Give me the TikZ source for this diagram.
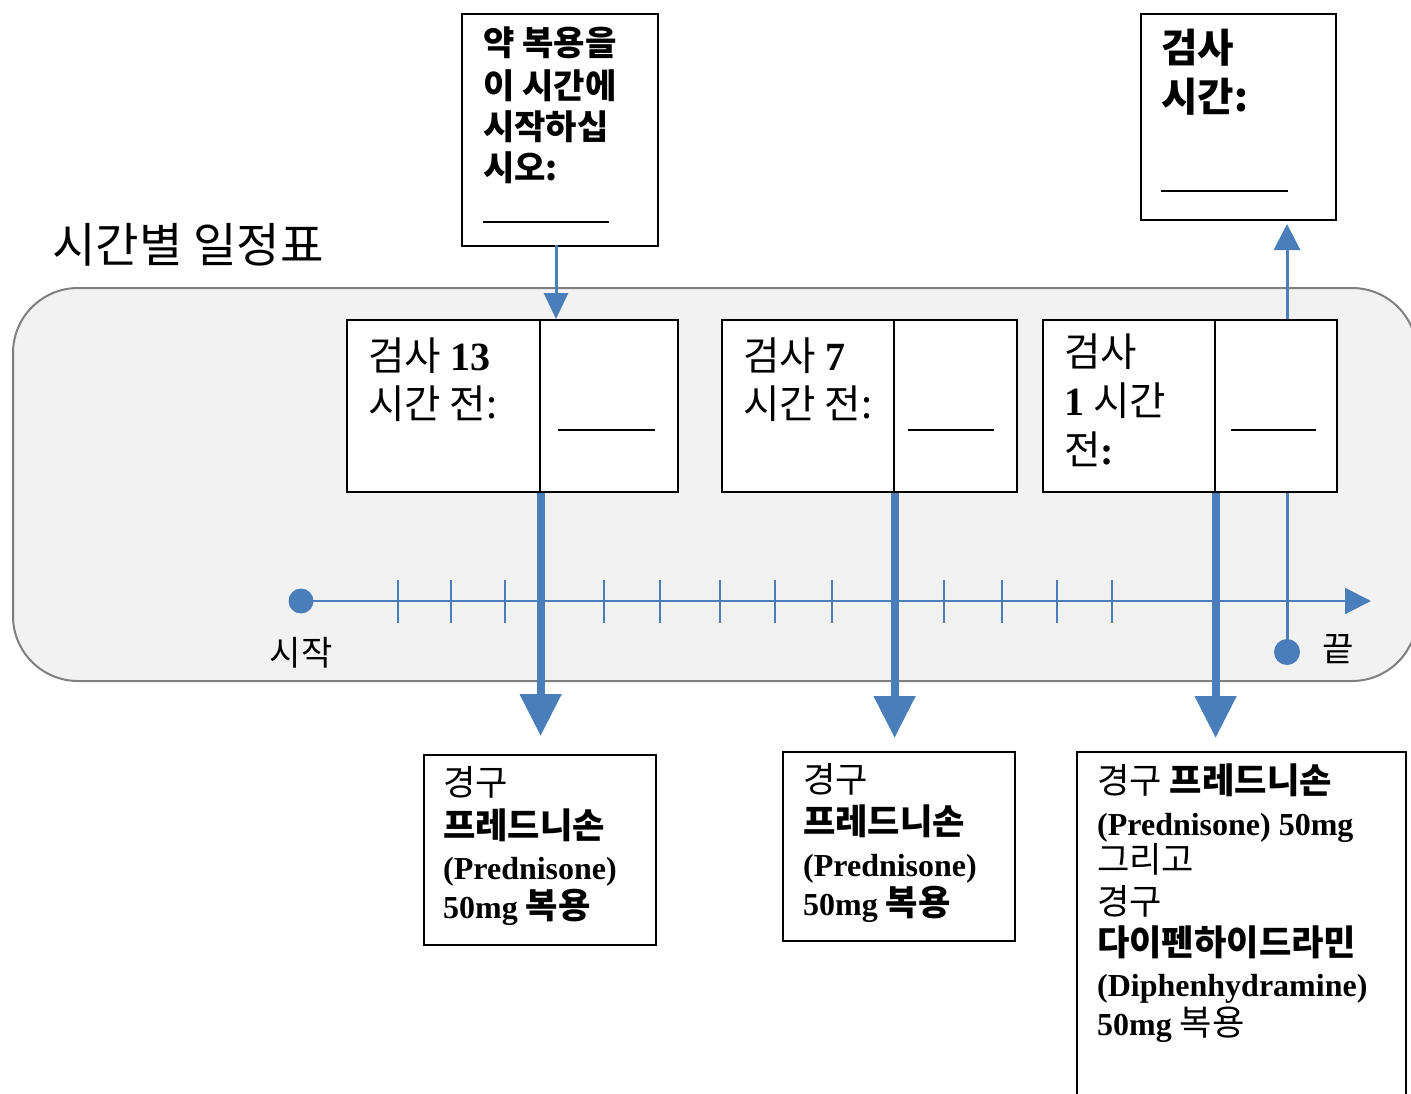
\documentclass[tikz,border=0pt]{standalone}
\usepackage{fontspec}
\setmainfont{Liberation Serif}[BoldFont={Liberation Serif Bold}]
\newfontfamily\kr{Noto Sans CJK KR}[Scale=1.1]
\usetikzlibrary{arrows.meta}
\definecolor{tlblue}{HTML}{4A7EBB}
\definecolor{bggray}{HTML}{F2F2F2}
\definecolor{bgline}{HTML}{7F7F7F}
\newcommand{\K}[1]{{\kr #1}}
\newcommand{\KB}[1]{{\kr\bfseries #1}}
\newcommand{\LB}[1]{{\fontsize{40}{44}\selectfont\bfseries #1}}
\tikzset{
  box/.style={draw=black, line width=1.6pt, fill=white, inner sep=0pt, anchor=north west},
  txt/.style={anchor=base west, inner sep=0pt},
  midtxt/.style={txt, font=\fontsize{36}{44}\selectfont},
  bottxt/.style={txt, font=\fontsize{32}{38}\selectfont},
  blank/.style={draw=black, line width=1.4pt},
  axisline/.style={draw=tlblue, line width=2pt},
  tick/.style={draw=tlblue, line width=2pt},
  thinarrow/.style={draw=tlblue, line width=3pt, -{Triangle[width=26pt,length=26pt]}},
  thickarrow/.style={draw=tlblue, line width=8pt, -{Triangle[width=40pt,length=42pt]}},
}
\begin{document}
\begin{tikzpicture}[x=1pt,y=-1pt]
\useasboundingbox (0,0) rectangle (1411,1093);
% background panel
\node[draw=bgline, fill=bggray, line width=2pt, rounded corners=65pt, inner sep=0pt, anchor=north west,
      minimum width=1404pt, minimum height=393pt] (bg) at (12,287) {};
% title
\node[txt, font=\fontsize{43}{48}\selectfont] (title) at (52,262) {\K{시간별 일정표}};
% axis
\coordinate (axisEnd) at (1371,601);
\node[circle, fill=tlblue, inner sep=0pt, minimum size=25pt] (startDot) at (301,601) {};
\node[circle, fill=tlblue, inner sep=0pt, minimum size=26pt] (endDot) at (1287,652) {};
\draw[axisline, -{Triangle[width=26pt,length=26pt]}] (startDot.center) -- (axisEnd);
\foreach \tx in {398,451,505,604,660,720,775,832,944,1002,1057,1112}{
  \draw[tick] (\tx,580) -- (\tx,623);
}
\node[txt, font=\fontsize{31}{34}\selectfont, anchor=center] (startLbl) at (301,653) {\K{시작}};
\node[txt, font=\fontsize{31}{34}\selectfont, anchor=center] (endLbl) at (1338,649) {\K{끝}};
% end vertical arrow up
\coordinate (upTip) at (1287,224);
\draw[thinarrow] (endDot.center) -- (upTip);
% top boxes
\node[box, minimum width=196pt, minimum height=232pt] (top1) at (461,13) {};
\node[box, minimum width=195pt, minimum height=206pt] (top2) at (1140,13) {};
\begin{scope}[every node/.style={txt, font=\fontsize{31}{36}\selectfont}]
\node (t1a) at (483,55) {\KB{약 복용을}};
\node (t1b) at (483,98) {\KB{이 시간에}};
\node (t1c) at (483,139) {\KB{시작하십}};
\node (t1d) at (483,180) {\KB{시오:}};
\end{scope}
\coordinate (t1l) at (483,222); \coordinate (t1r) at (609,222);
\draw[blank] (t1l) -- (t1r);
\node[txt, font=\fontsize{36}{42}\selectfont] (t2a) at (1161,62) {\KB{검사}};
\node[txt, font=\fontsize{36}{42}\selectfont] (t2b) at (1161,111) {\KB{시간:}};
\coordinate (t2l) at (1161,191); \coordinate (t2r) at (1288,191);
\draw[blank] (t2l) -- (t2r);
% middle boxes
\node[box, minimum width=193pt, minimum height=172pt] (aL) at (346,319) {};
\node[box, minimum width=138pt, minimum height=172pt] (aR) at (539,319) {};
\node[box, minimum width=172pt, minimum height=172pt] (bL) at (721,319) {};
\node[box, minimum width=123pt, minimum height=172pt] (bR) at (893,319) {};
\node[box, minimum width=172pt, minimum height=172pt] (cL) at (1042,319) {};
\node[box, minimum width=122pt, minimum height=172pt] (cR) at (1214,319) {};
\node[midtxt] (a1) at (368,370) {\K{검사} \LB{13}};
\node[midtxt] (a2) at (368,418) {\K{시간 전:}};
\node[midtxt] (b1) at (743,370) {\K{검사} \LB{7}};
\node[midtxt] (b2) at (743,418) {\K{시간 전:}};
\node[midtxt] (c1) at (1064,366) {\K{검사}};
\node[midtxt] (c2) at (1064,415) {\LB{1} \K{시간}};
\node[midtxt] (c3) at (1064,464) {\K{전}\LB{:}};
\coordinate (aBl) at (558,430); \coordinate (aBr) at (655,430);
\coordinate (bBl) at (908,430); \coordinate (bBr) at (994,430);
\coordinate (cBl) at (1231,430); \coordinate (cBr) at (1316,430);
\draw[blank] (aBl) -- (aBr);
\draw[blank] (bBl) -- (bBr);
\draw[blank] (cBl) -- (cBr);
% arrow from top1 to box A
\coordinate (t1out) at (556,245);
\draw[thinarrow, -{Triangle[width=24pt,length=26pt]}] (t1out) -- (t1out |- aR.north);
% thick arrows
\coordinate (tipA) at (539,736);
\coordinate (tipB) at (893,738);
\coordinate (tipC) at (1214,738);
\draw[thickarrow] (aL.south east) -- (aL.south east |- tipA);
\draw[thickarrow] (bL.south east) -- (bL.south east |- tipB);
\draw[thickarrow] (cL.south east) -- (cL.south east |- tipC);
% bottom boxes
\node[box, minimum width=232pt, minimum height=190pt] (dBox) at (423,754) {};
\node[box, minimum width=232pt, minimum height=189pt] (eBox) at (782,751) {};
\node[box, minimum width=329pt, minimum height=360pt] (fBox) at (1076,751) {};
\node[bottxt] (d1) at (443,795) {\K{경구}};
\node[bottxt] (d2) at (443,838) {\KB{프레드니손}};
\node[bottxt] (d3) at (443,879) {\textbf{(Prednisone)}};
\node[bottxt] (d4) at (443,918) {\textbf{50mg} \KB{복용}};
\node[bottxt] (e1) at (803,792) {\K{경구}};
\node[bottxt] (e2) at (803,834) {\KB{프레드니손}};
\node[bottxt] (e3) at (803,876) {\textbf{(Prednisone)}};
\node[bottxt] (e4) at (803,915) {\textbf{50mg} \KB{복용}};
\node[bottxt] (f1) at (1097,793) {\K{경구} \KB{프레드니손}};
\node[bottxt] (f2) at (1097,835) {\textbf{(Prednisone) 50mg}};
\node[bottxt] (f3) at (1097,872) {\K{그리고}};
\node[bottxt] (f4) at (1097,914) {\K{경구}};
\node[bottxt] (f5) at (1097,955) {\KB{다이펜하이드라민}};
\node[bottxt] (f6) at (1097,996) {\textbf{(Diphenhydramine)}};
\node[bottxt] (f7) at (1097,1035) {\textbf{50mg} \K{복용}};
\end{tikzpicture}
\end{document}
